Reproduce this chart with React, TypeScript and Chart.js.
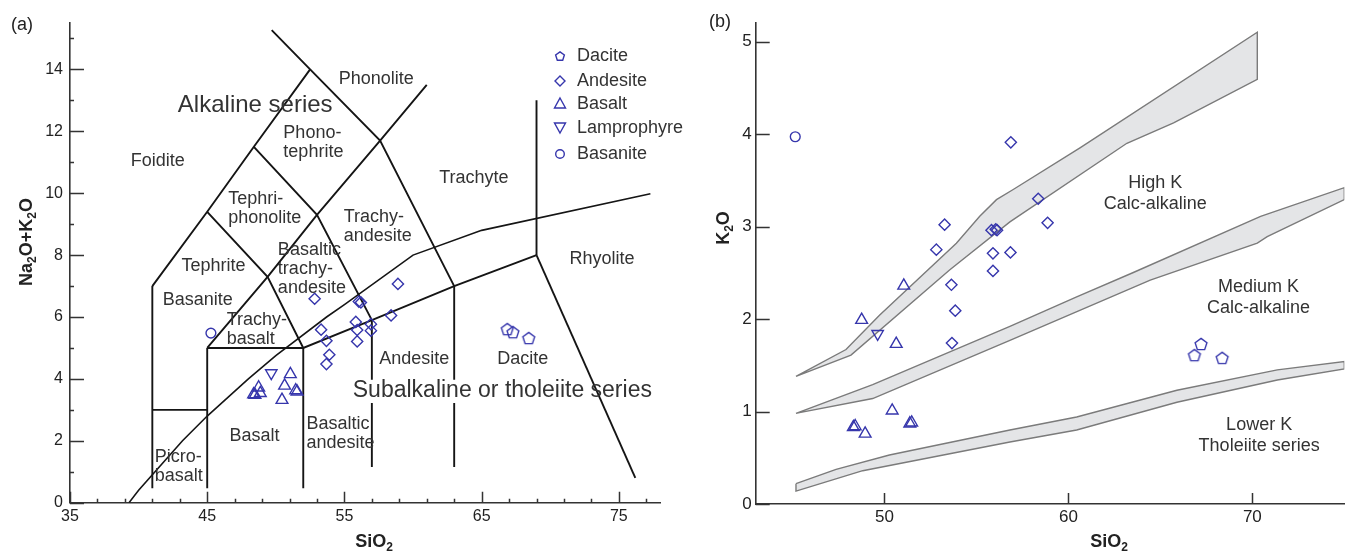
import React, { useEffect, useRef } from 'react';
import { Chart, registerables } from 'chart.js';

Chart.register(...registerables);

const FONT = '"Liberation Sans", Arial, "Noto Sans", sans-serif';
const MARK = '#3636ac';
const AXIS = '#333333';
const TXT = '#333333';
const LINE = '#151515';
const BAND_FILL = '#e4e5e7';
const BAND_EDGE = '#7b7b7b';

// ---------------- Panel (a): TAS data ----------------
const daciteSiO2A = [66.87, 67.28, 68.43];
const daciteAlkA = [5.61, 5.51, 5.32];
const andesiteSiO2A = [52.83, 56.05, 56.2, 58.9, 53.3, 53.69, 53.9, 53.69, 55.83, 55.93, 55.93, 56.93, 56.93, 58.4];
const andesiteAlkA = [6.59, 6.5, 6.47, 7.07, 5.59, 5.23, 4.78, 4.48, 5.84, 5.58, 5.21, 5.77, 5.56, 6.05];
const basaltSiO2A = [51.06, 50.64, 51.45, 51.55, 50.45, 48.75, 48.87, 48.38, 48.48];
const basaltAlkA = [4.15, 3.78, 3.63, 3.59, 3.32, 3.72, 3.54, 3.5, 3.48];
const lamproSiO2A = [49.67];
const lamproAlkA = [4.19];
const basaniteSiO2A = [45.27];
const basaniteAlkA = [5.48];

// TAS field boundaries (SiO2, Na2O+K2O)
const tasPicroLeft = [[41, 0.47], [41, 7]];
const tasFoiditeEdge = [[41, 7], [45, 9.4], [48.4, 11.5], [52.5, 14]];
const tasPicroTop = [[41, 3], [45, 3]];
const tasBasaltLeft = [[45, 0.47], [45, 5]];
const tasSubalkTop = [[45, 5], [52, 5], [57, 5.9], [63, 7], [69, 8]];
const tasTrachyBase = [[45, 5], [49.4, 7.3], [53, 9.3], [57.6, 11.7], [61, 13.5]];
const tasTephriEdge = [[45, 9.4], [49.4, 7.3], [52, 5]];
const tasPhonoTephEdge = [[48.4, 11.5], [53, 9.3], [57, 5.9]];
const tasPhonoliteEdge = [[49.7, 15.27], [52.5, 14], [57.6, 11.7], [63, 7]];
const tasBasaltRight = [[52, 0.47], [52, 5]];
const tasAndesiteLeftLow = [[57, 1.15], [57, 3.22]];
const tasAndesiteLeftHigh = [[57, 3.97], [57, 5.9]];
const tasDaciteLeftLow = [[63, 1.15], [63, 3.22]];
const tasDaciteLeftHigh = [[63, 3.97], [63, 7]];
const tasTrachyteRight = [[69, 8], [69, 13]];
const tasRhyoliteEdge = [[69, 8], [76.2, 0.8]];
const irvineSiO2 = [39.3, 40, 43.2, 45, 48, 50, 53.7, 55, 60, 65, 77.3];
const irvineAlk = [0, 0.4, 2, 2.8, 4, 4.75, 6, 6.4, 8, 8.8, 9.98];

const xTicksA = [35, 45, 55, 65, 75];
const xMinorA = [37, 39, 41, 43, 47, 49, 51, 53, 57, 59, 61, 63, 67, 69, 71, 73, 77];
const yTicksA = [0, 2, 4, 6, 8, 10, 12, 14];
const yMinorA = [1, 3, 5, 7, 9, 11, 13, 15];

// ---------------- Panel (b): K2O vs SiO2 ----------------
const daciteSiO2B = [67.21, 66.85, 68.36];
const daciteK2OB = [1.73, 1.61, 1.58];
const andesiteSiO2B = [56.87, 58.36, 58.87, 53.27, 52.82, 55.82, 56.05, 56.12, 55.9, 56.85, 55.9, 53.64, 53.85, 53.67];
const andesiteK2OB = [3.91, 3.3, 3.04, 3.02, 2.75, 2.96, 2.97, 2.96, 2.71, 2.72, 2.52, 2.37, 2.09, 1.74];
const basaltSiO2B = [51.05, 48.76, 50.64, 50.42, 48.31, 48.41, 48.95, 51.38, 51.48];
const basaltK2OB = [2.36, 1.99, 1.73, 1.01, 0.83, 0.84, 0.76, 0.87, 0.88];
const lamproSiO2B = [49.63];
const lamproK2OB = [1.84];
const basaniteSiO2B = [45.15];
const basaniteK2OB = [3.97];

// boundary bands (outline, closed)
const bandHighK = [[45.19, 1.38], [47.91, 1.67], [49.73, 2.04], [53.91, 2.82], [55.18, 3.11], [56.09, 3.29], [57.0, 3.4], [60.63, 3.85], [70.27, 5.1], [70.27, 4.59], [65.72, 4.12], [63.18, 3.9], [56.82, 3.05], [53.54, 2.53], [48.18, 1.61], [45.19, 1.38]];
const bandMediumK = [[45.19, 0.98], [49.36, 1.29], [56.82, 1.92], [60.45, 2.24], [63.5, 2.5], [70.45, 3.11], [75.0, 3.42], [75.0, 3.29], [70.81, 2.89], [70.27, 2.82], [64.45, 2.42], [56.82, 1.77], [49.36, 1.14], [45.45, 0.99], [45.19, 0.98]];
const bandLowK = [[45.19, 0.22], [47.37, 0.375], [50.27, 0.53], [56.82, 0.8], [60.45, 0.94], [65.9, 1.23], [71.36, 1.45], [75.0, 1.54], [75.0, 1.46], [71.36, 1.34], [65.9, 1.1], [60.45, 0.8], [56.82, 0.67], [48.82, 0.36], [45.19, 0.14], [45.19, 0.22]];

const xTicksB = [50, 60, 70];
const yTicksB = [0, 1, 2, 3, 4, 5];

type Lbl = { t: string[]; x: number; y: number; align?: CanvasTextAlign; size?: number };

const tasLabels: Lbl[] = [
  { t: ['Foidite'], x: 41.39, y: 11.03 },
  { t: ['Alkaline series'], x: 48.5, y: 12.84, size: 24 },
  { t: ['Phonolite'], x: 57.32, y: 13.7 },
  { t: ['Phono-', 'tephrite'], x: 50.55, y: 11.95, align: 'left' },
  { t: ['Tephri-', 'phonolite'], x: 46.53, y: 9.82, align: 'left' },
  { t: ['Tephrite'], x: 45.46, y: 7.64 },
  { t: ['Basaltic', 'trachy-', 'andesite'], x: 50.15, y: 8.15, align: 'left' },
  { t: ['Basanite'], x: 44.31, y: 6.56 },
  { t: ['Trachy-', 'basalt'], x: 46.42, y: 5.89, align: 'left' },
  { t: ['Picro-', 'basalt'], x: 41.17, y: 1.49, align: 'left' },
  { t: ['Basalt'], x: 48.44, y: 2.17 },
  { t: ['Basaltic', 'andesite'], x: 52.23, y: 2.55, align: 'left' },
  { t: ['Andesite'], x: 60.09, y: 4.64 },
  { t: ['Dacite'], x: 67.99, y: 4.64 },
  { t: ['Subalkaline or tholeiite series'], x: 66.51, y: 3.62, size: 23 },
  { t: ['Trachy-', 'andesite'], x: 54.95, y: 9.24, align: 'left' },
  { t: ['Trachyte'], x: 64.44, y: 10.5 },
  { t: ['Rhyolite'], x: 73.77, y: 7.88 },
];

const kLabels: Lbl[] = [
  { t: ['High K', 'Calc-alkaline'], x: 64.72, y: 3.47 },
  { t: ['Medium K', 'Calc-alkaline'], x: 70.34, y: 2.35 },
  { t: ['Lower K', 'Tholeiite series'], x: 70.37, y: 0.854 },
];

const legendNames = ['Dacite', 'Andesite', 'Basalt', 'Lamprophyre', 'Basanite'];

// ---------------- helpers ----------------
const pts = (xs: number[], ys: number[]) => xs.map((x, i) => ({ x, y: ys[i] }));
const pairs = (p: number[][]) => p.map(([x, y]) => ({ x, y }));

function makePentagon(r: number, lw: number): HTMLCanvasElement {
  const size = Math.ceil(2 * r + 2 * lw + 2);
  const c = document.createElement('canvas');
  c.width = size;
  c.height = size;
  const ctx = c.getContext('2d')!;
  ctx.strokeStyle = MARK;
  ctx.lineWidth = lw;
  ctx.beginPath();
  for (let i = 0; i < 5; i++) {
    const a = -Math.PI / 2 + (i * 2 * Math.PI) / 5;
    const x = size / 2 + r * Math.cos(a);
    const y = size / 2 + r * Math.sin(a) + r * 0.1;
    if (i === 0) ctx.moveTo(x, y);
    else ctx.lineTo(x, y);
  }
  ctx.closePath();
  ctx.stroke();
  return c;
}

function lineDs(p: number[][], width = 1.8) {
  return {
    type: 'line' as const,
    data: pairs(p),
    borderColor: LINE,
    borderWidth: width,
    pointRadius: 0,
    pointHoverRadius: 0,
    fill: false,
    tension: 0,
    order: 5,
  };
}

function bandDs(p: number[][]) {
  return {
    type: 'line' as const,
    data: pairs(p),
    borderColor: BAND_EDGE,
    backgroundColor: BAND_FILL,
    borderWidth: 1.4,
    pointRadius: 0,
    pointHoverRadius: 0,
    fill: 'shape',
    tension: 0,
    order: 6,
  };
}

function markerSets(
  pent: HTMLCanvasElement,
  d: { x: number; y: number }[],
  a: { x: number; y: number }[],
  b: { x: number; y: number }[],
  l: { x: number; y: number }[],
  s: { x: number; y: number }[]
) {
  const base = { type: 'scatter' as const, borderColor: MARK, backgroundColor: 'rgba(0,0,0,0)', borderWidth: 1.4, order: 0 };
  return [
    { ...base, label: 'Dacite', data: d, pointStyle: pent, pointRadius: 6 },
    { ...base, label: 'Andesite', data: a, pointStyle: 'rectRot', pointRadius: 5.6, pointHoverRadius: 5.6 },
    { ...base, label: 'Basalt', data: b, pointStyle: 'triangle', pointRadius: 6.8, pointHoverRadius: 6.8 },
    { ...base, label: 'Lamprophyre', data: l, pointStyle: 'triangle', pointRotation: 180, pointRadius: 6.6, pointHoverRadius: 6.6 },
    { ...base, label: 'Basanite', data: s, pointStyle: 'circle', pointRadius: 4.9, pointHoverRadius: 4.9 },
  ];
}

function drawRich(
  ctx: CanvasRenderingContext2D,
  parts: [string, boolean][],
  x: number,
  y: number,
  size: number,
  weight: string,
  rotate = false
) {
  ctx.save();
  ctx.translate(x, y);
  if (rotate) ctx.rotate(-Math.PI / 2);
  const main = `${weight} ${size}px ${FONT}`;
  const sub = `${weight} ${Math.round(size * 0.68)}px ${FONT}`;
  let total = 0;
  const widths = parts.map(([t, s]) => {
    ctx.font = s ? sub : main;
    const w = ctx.measureText(t).width;
    total += w;
    return w;
  });
  let cx = -total / 2;
  ctx.fillStyle = '#222';
  ctx.textAlign = 'left';
  ctx.textBaseline = 'alphabetic';
  parts.forEach(([t, s], i) => {
    ctx.font = s ? sub : main;
    ctx.fillText(t, cx, s ? size * 0.36 + size * 0.2 : size * 0.36);
    cx += widths[i];
  });
  ctx.restore();
}

function ticksPlugin(id: string, xMaj: number[], xMin: number[], yMaj: number[], yMin: number[], xLen: number, yLen: number) {
  return {
    id,
    afterDraw(chart: any) {
      const { ctx, chartArea } = chart;
      const xs = chart.scales.x;
      const ys = chart.scales.y;
      ctx.save();
      ctx.strokeStyle = AXIS;
      ctx.lineWidth = 1.5;
      ctx.beginPath();
      const b = chartArea.bottom;
      const l = chartArea.left;
      xMaj.forEach((v) => {
        const p = Math.round(xs.getPixelForValue(v)) + 0.5;
        ctx.moveTo(p, b);
        ctx.lineTo(p, b - xLen);
      });
      xMin.forEach((v) => {
        const p = Math.round(xs.getPixelForValue(v)) + 0.5;
        ctx.moveTo(p, b);
        ctx.lineTo(p, b - 4);
      });
      yMaj.forEach((v) => {
        const p = Math.round(ys.getPixelForValue(v)) + 0.5;
        ctx.moveTo(l, p);
        ctx.lineTo(l + yLen, p);
      });
      yMin.forEach((v) => {
        const p = Math.round(ys.getPixelForValue(v)) + 0.5;
        ctx.moveTo(l, p);
        ctx.lineTo(l + 4, p);
      });
      ctx.stroke();
      ctx.restore();
    },
  };
}

function labelsPlugin(id: string, labels: Lbl[], size: number, lineH: number) {
  return {
    id,
    afterDatasetsDraw(chart: any) {
      const { ctx } = chart;
      const xs = chart.scales.x;
      const ys = chart.scales.y;
      ctx.save();
      ctx.fillStyle = TXT;
      ctx.textBaseline = 'middle';
      labels.forEach((lb) => {
        const px = xs.getPixelForValue(lb.x);
        const py = ys.getPixelForValue(lb.y);
        ctx.font = `${lb.size || size}px ${FONT}`;
        ctx.textAlign = lb.align || 'center';
        lb.t.forEach((line, i) => ctx.fillText(line, px, py + i * lineH));
      });
      ctx.restore();
    },
  };
}

function scaleOpts(min: number, max: number, ticks: number[], fit: (s: any) => void, size: number, pad: number) {
  return {
    type: 'linear' as const,
    min,
    max,
    grid: { display: false, drawTicks: false, tickLength: 0 },
    border: { display: true, color: AXIS, width: 1.6 },
    ticks: { font: { family: FONT, size }, color: '#222', padding: pad, autoSkip: false, maxRotation: 0, minRotation: 0 },
    afterBuildTicks: (s: any) => {
      s.ticks = ticks.map((v) => ({ value: v }));
    },
    afterFit: fit,
  };
}

function configA(pent: HTMLCanvasElement, pentLegend: HTMLCanvasElement): any {
  const lines = [
    tasPicroLeft, tasFoiditeEdge, tasPicroTop, tasBasaltLeft, tasSubalkTop, tasTrachyBase, tasTephriEdge,
    tasPhonoTephEdge, tasPhonoliteEdge, tasBasaltRight, tasAndesiteLeftLow, tasAndesiteLeftHigh,
    tasDaciteLeftLow, tasDaciteLeftHigh, tasTrachyteRight, tasRhyoliteEdge,
  ].map((p) => lineDs(p, 1.9));
  const irvine = lineDs(irvineSiO2.map((x, i) => [x, irvineAlk[i]]), 1.6);
  return {
    type: 'scatter',
    data: {
      datasets: [
        ...markerSets(pent, pts(daciteSiO2A, daciteAlkA), pts(andesiteSiO2A, andesiteAlkA), pts(basaltSiO2A, basaltAlkA), pts(lamproSiO2A, lamproAlkA), pts(basaniteSiO2A, basaniteAlkA)),
        ...lines,
        irvine,
      ],
    },
    options: {
      animation: false,
      responsive: false,
      events: [],
      layout: { padding: { left: 0, right: 40, top: 23, bottom: 0 } },
      plugins: { legend: { display: false }, tooltip: { enabled: false } },
      scales: {
        x: scaleOpts(35, 78, xTicksA, (s: any) => { s.height = 51.3; }, 16, 4),
        y: scaleOpts(0, 15.5, yTicksA, (s: any) => { s.width = 70; }, 16, 7),
      },
    },
    plugins: [
      ticksPlugin('ticksA', xTicksA, xMinorA, yTicksA, yMinorA, 11, 14),
      labelsPlugin('labelsA', tasLabels, 18, 19),
      {
        id: 'decoA',
        afterDraw(chart: any) {
          const { ctx } = chart;
          ctx.save();
          // legend
          const rows = [56, 81, 104, 128, 154];
          ctx.strokeStyle = MARK;
          ctx.lineWidth = 1.4;
          rows.forEach((ry, i) => {
            const cx = 560;
            ctx.beginPath();
            if (i === 0) {
              ctx.drawImage(pentLegend, cx - pentLegend.width / 2, ry - pentLegend.height / 2);
            } else if (i === 1) {
              ctx.moveTo(cx, ry - 5); ctx.lineTo(cx + 5, ry); ctx.lineTo(cx, ry + 5); ctx.lineTo(cx - 5, ry); ctx.closePath();
            } else if (i === 2) {
              ctx.moveTo(cx, ry - 6); ctx.lineTo(cx + 5.5, ry + 4); ctx.lineTo(cx - 5.5, ry + 4); ctx.closePath();
            } else if (i === 3) {
              ctx.moveTo(cx, ry + 5); ctx.lineTo(cx + 5.5, ry - 5); ctx.lineTo(cx - 5.5, ry - 5); ctx.closePath();
            } else {
              ctx.arc(cx, ry, 4.3, 0, Math.PI * 2);
            }
            ctx.stroke();
          });
          ctx.fillStyle = TXT;
          ctx.font = `18px ${FONT}`;
          ctx.textAlign = 'left';
          ctx.textBaseline = 'middle';
          legendNames.forEach((n, i) => ctx.fillText(n, 577, rows[i]));
          // panel tag and axis titles
          ctx.font = `18px ${FONT}`;
          ctx.fillStyle = '#222';
          ctx.textAlign = 'center';
          ctx.fillText('(a)', 22, 25);
          ctx.restore();
          drawRich(ctx, [['SiO', false], ['2', true]], 374, 541, 18, 'bold');
          drawRich(ctx, [['Na', false], ['2', true], ['O+K', false], ['2', true], ['O', false]], 26, 242, 18, 'bold', true);
        },
      },
    ],
  };
}

function configB(pent: HTMLCanvasElement): any {
  return {
    type: 'scatter',
    data: {
      datasets: [
        ...markerSets(pent, pts(daciteSiO2B, daciteK2OB), pts(andesiteSiO2B, andesiteK2OB), pts(basaltSiO2B, basaltK2OB), pts(lamproSiO2B, lamproK2OB), pts(basaniteSiO2B, basaniteK2OB)),
        bandDs(bandHighK),
        bandDs(bandMediumK),
        bandDs(bandLowK),
      ],
    },
    options: {
      animation: false,
      responsive: false,
      events: [],
      layout: { padding: { left: 0, right: 9.7, top: 23, bottom: 0 } },
      plugins: { legend: { display: false }, tooltip: { enabled: false } },
      scales: {
        x: scaleOpts(43, 75, xTicksB, (s: any) => { s.height = 50; }, 17, 3),
        y: scaleOpts(0, 5.2, yTicksB, (s: any) => { s.width = 78.7; }, 17, 4),
      },
    },
    plugins: [
      ticksPlugin('ticksB', xTicksB, [], yTicksB, [], 11, 14),
      labelsPlugin('labelsB', kLabels, 18, 21),
      {
        id: 'decoB',
        afterDraw(chart: any) {
          const { ctx } = chart;
          ctx.save();
          ctx.font = `18px ${FONT}`;
          ctx.fillStyle = '#222';
          ctx.textAlign = 'center';
          ctx.textBaseline = 'middle';
          ctx.fillText('(b)', 43, 22);
          ctx.restore();
          drawRich(ctx, [['SiO', false], ['2', true]], 432, 541, 18, 'bold');
          drawRich(ctx, [['K', false], ['2', true], ['O', false]], 46, 228, 18, 'bold', true);
        },
      },
    ],
  };
}

export default function App() {
  const refA = useRef<HTMLCanvasElement>(null);
  const refB = useRef<HTMLCanvasElement>(null);
  useEffect(() => {
    Chart.defaults.font.family = FONT;
    const pent = makePentagon(6.2, 1.4);
    const pentLegend = makePentagon(4.6, 1.4);
    const a = new Chart(refA.current!, configA(pent, pentLegend));
    const b = new Chart(refB.current!, configB(pent));
    return () => {
      a.destroy();
      b.destroy();
    };
  }, []);
  return (
    <div style={{ position: 'fixed', left: 0, top: 0, width: 1354, height: 554, background: '#fff' }}>
      <canvas ref={refA} width={700} height={554} style={{ position: 'absolute', left: 0, top: 0, width: 700, height: 554 }} />
      <canvas ref={refB} width={677} height={554} style={{ position: 'absolute', left: 677, top: 0, width: 677, height: 554 }} />
    </div>
  );
}
